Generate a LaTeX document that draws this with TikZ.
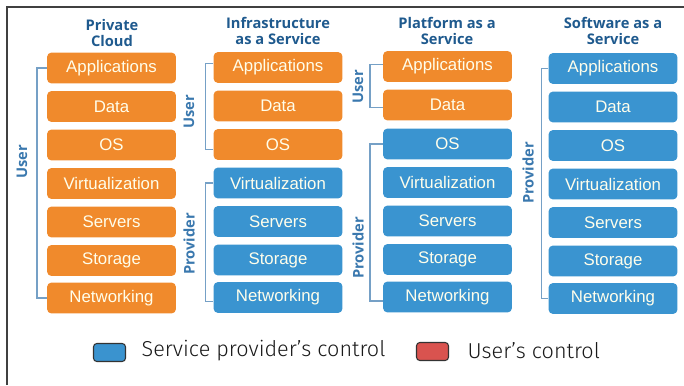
\documentclass[tikz,border=0pt]{standalone}
\usepackage{fontspec}
\setmainfont{Liberation Sans}
\newfontfamily\titlefont{Open Sans}
\newfontfamily\legendfont{Fira Sans Light}
\definecolor{boxorange}{HTML}{F08A2C}
\definecolor{boxblue}{HTML}{3A94D0}
\definecolor{titleblue}{HTML}{1F5A8E}
\definecolor{brkblue}{HTML}{3A78AE}
\definecolor{legred}{HTML}{D9534F}
\definecolor{legblue}{HTML}{3A93CF}
\begin{document}
\begin{tikzpicture}[x=0.75pt,y=-0.75pt,
  layer/.style={rounded corners=3pt,minimum width=96.5pt,minimum height=23pt,inner sep=0pt,
    text=white!92!yellow,font=\fontsize{12.6}{14}\selectfont},
  ubox/.style={layer,fill=boxorange},
  pbox/.style={layer,fill=boxblue},
  coltitle/.style={align=center,text=titleblue,font=\titlefont\bfseries\fontsize{11}{12.5}\selectfont},
  sidelabel/.style={rotate=90,text=brkblue,font=\titlefont\bfseries\fontsize{11}{12}\selectfont},
  brk/.style={draw=brkblue!70,line width=0.9pt},
  legbox/.style={draw=black!80,line width=0.8pt,rounded corners=2.5pt,minimum width=24pt,minimum height=13.5pt,inner sep=0pt},
  legtext/.style={anchor=west,font=\legendfont\fontsize{16.2}{18}\selectfont,text=black!90}
]
\useasboundingbox (0,0) rectangle (684,385);
% frame
\draw[black!75,line width=1.5pt] (7,385) -- (7,7) -- (684,7);

% titles
\node[coltitle] (t1) at (112,33) {Private\\Cloud};
\node[coltitle] (t2) at (278,31) {Infrastructure\\as a Service};
\node[coltitle] (t3) at (447,31) {Platform as a\\Service};
\node[coltitle] (t4) at (613,31) {Software as a\\Service};

% column 1: Private Cloud
\node[ubox] (c1r1) at (111.5,68) {Applications};
\node[ubox] (c1r2) at (111.5,106.5) {Data};
\node[ubox] (c1r3) at (111.5,145) {OS};
\node[ubox] (c1r4) at (111.5,183.5) {Virtualization};
\node[ubox] (c1r5) at (111.5,222) {Servers};
\node[ubox] (c1r6) at (111.5,260.5) {Storage};
\node[ubox] (c1r7) at (111.5,298) {Networking};

% column 2: IaaS
\node[ubox] (c2r1) at (278,67.5) {Applications};
\node[ubox] (c2r2) at (278,106) {Data};
\node[ubox] (c2r3) at (278,144.5) {OS};
\node[pbox] (c2r4) at (278,183) {Virtualization};
\node[pbox] (c2r5) at (278,221.5) {Servers};
\node[pbox] (c2r6) at (278,260) {Storage};
\node[pbox] (c2r7) at (278,297.5) {Networking};

% column 3: PaaS
\node[ubox] (c3r1) at (447.5,66.5) {Applications};
\node[ubox] (c3r2) at (447.5,105) {Data};
\node[pbox] (c3r3) at (447.5,144) {OS};
\node[pbox] (c3r4) at (447.5,182.5) {Virtualization};
\node[pbox] (c3r5) at (447.5,221) {Servers};
\node[pbox] (c3r6) at (447.5,259.5) {Storage};
\node[pbox] (c3r7) at (447.5,297) {Networking};

% column 4: SaaS
\node[pbox] (c4r1) at (613,68.5) {Applications};
\node[pbox] (c4r2) at (613,107) {Data};
\node[pbox] (c4r3) at (613,145.5) {OS};
\node[pbox] (c4r4) at (613,184) {Virtualization};
\node[pbox] (c4r5) at (613,222.5) {Servers};
\node[pbox] (c4r6) at (613,261) {Storage};
\node[pbox] (c4r7) at (613,298.5) {Networking};

% brackets
\draw[brk] (c1r1.west) -- ++(-10,0) |- (c1r7.west);
\draw[brk] ([yshift=3pt]c2r1.west) -- ++(-8,0) |- ([yshift=-4pt]c2r3.west);
\draw[brk] (c2r4.west) -- ++(-8,0) |- ([yshift=-3pt]c2r7.west);
\draw[brk] ([yshift=1.5pt]c3r1.west) -- ++(-13,0) |- ([yshift=-2pt]c3r2.west);
\draw[brk] (c3r3.west) -- ++(-13,0) |- ([yshift=-3pt]c3r7.west);
\draw[brk] (c4r1.west) -- ++(-7,0) |- (c4r7.west);

% side labels
\node[sidelabel] (u1) at (22,162) {User};
\node[sidelabel] (u2) at (189,112) {User};
\node[sidelabel] (p2) at (189,244) {Provider};
\node[sidelabel] (u3) at (358,87) {User};
\node[sidelabel] (p3) at (358,248) {Provider};
\node[sidelabel] (p4) at (528,173) {Provider};

% legend
\node[legbox,fill=legblue] (lb) at (109.5,352.5) {};
\node[legtext] (lbt) at (137,351) {Service provider’s control};
\node[legbox,fill=legred] (lr) at (432.5,351.5) {};
\node[legtext] (lrt) at (463,351) {User’s control};
\end{tikzpicture}
\end{document}
